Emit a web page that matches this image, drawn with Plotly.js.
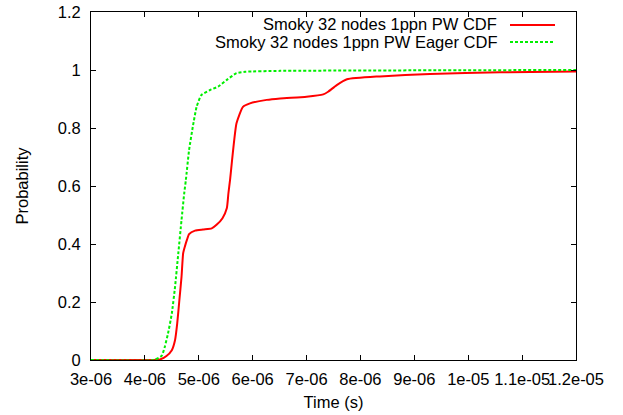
<!DOCTYPE html>
<html>
<head>
<meta charset="utf-8">
<script src="https://cdn.plot.ly/plotly-3.0.1.min.js"></script>
<style>html,body{margin:0;padding:0;background:#fff;}#chart{width:623px;height:415px;}</style>
</head>
<body>
<div id="chart"></div>
<script>
// Time values in microseconds (×1e-6 s)
var pwTimeUs = [3.0, 4.03, 4.28, 4.40, 4.50, 4.56, 4.60, 4.64, 4.68, 4.71, 4.74, 4.78, 4.82, 4.93, 5.08, 5.24, 5.33, 5.44, 5.52, 5.55, 5.58, 5.70, 5.82, 5.95, 6.26, 6.51, 7.0, 7.31, 7.40, 7.56, 7.75, 8.36, 9.29, 10.59, 12.0];
var pwProb   = [0, 0, 0.002, 0.014, 0.034, 0.069, 0.126, 0.207, 0.287, 0.368, 0.39, 0.414, 0.434, 0.446, 0.45, 0.454, 0.466, 0.489, 0.523, 0.575, 0.62, 0.816, 0.873, 0.885, 0.897, 0.902, 0.908, 0.916, 0.925, 0.948, 0.968, 0.978, 0.986, 0.992, 0.995];
var eagerTimeUs = [3.0, 4.16, 4.31, 4.37, 4.43, 4.50, 4.56, 4.62, 4.68, 4.73, 4.76, 4.82, 4.89, 4.96, 5.05, 5.21, 5.36, 5.52, 5.70, 5.86, 6.51, 12.0];
var eagerProb   = [0, 0, 0.014, 0.046, 0.092, 0.161, 0.253, 0.368, 0.483, 0.575, 0.62, 0.724, 0.805, 0.873, 0.914, 0.931, 0.943, 0.966, 0.989, 0.994, 0.997, 1.0];
var seriesNames = ["Smoky 32 nodes 1ppn PW CDF", "Smoky 32 nodes 1ppn PW Eager CDF"];
var xTickVals = [3e-6, 4e-6, 5e-6, 6e-6, 7e-6, 8e-6, 9e-6, 1e-5, 1.1e-5, 1.2e-5];
var xTickText = ["3e-06", "4e-06", "5e-06", "6e-06", "7e-06", "8e-06", "9e-06", "1e-05", "1.1e-05", "1.2e-05"];
var yTickVals = [0, 0.2, 0.4, 0.6, 0.8, 1, 1.2];
var yTickText = ["0", "0.2", "0.4", "0.6", "0.8", "1", "1.2"];

function toSec(a){ return a.map(function(v){ return v * 1e-6; }); }

var FONT = "Liberation Sans, Arial, Helvetica, sans-serif";
var FS = 16.5;
var traces = [
  {x: toSec(pwTimeUs), y: pwProb, mode: "lines", name: seriesNames[0],
   line: {color: "#ff0000", width: 2, shape: "spline", smoothing: 0.5}},
  {x: toSec(eagerTimeUs), y: eagerProb, mode: "lines", name: seriesNames[1],
   line: {color: "#00ee00", width: 2, dash: "3px,2px", shape: "spline", smoothing: 0.5}}
];

var layout = {
  width: 623, height: 415,
  margin: {l: 91, r: 47, t: 12, b: 55, pad: 0},
  paper_bgcolor: "#fff", plot_bgcolor: "#fff",
  showlegend: false,
  font: {family: FONT, size: FS, color: "#000"},
  xaxis: {
    range: [3e-6, 1.2e-5], tickmode: "array", tickvals: xTickVals, ticktext: xTickText, tickangle: 0,
    ticks: "inside", ticklen: 5, tickcolor: "#000", showline: true, linecolor: "#000", linewidth: 1,
    mirror: "ticks", showgrid: false, zeroline: false, automargin: false, ticklabelstandoff: 4,
    title: {text: "Time (s)", standoff: 9, font: {size: FS}}
  },
  yaxis: {
    range: [0, 1.2], tickmode: "array", tickvals: yTickVals, ticktext: yTickText,
    ticks: "inside", ticklen: 5, tickcolor: "#000", showline: true, linecolor: "#000", linewidth: 1,
    mirror: "ticks", showgrid: false, zeroline: false, automargin: false, ticklabelstandoff: 6,
    title: {text: "Probability", standoff: 24, font: {size: FS}}
  },
  annotations: [
    {xref: "paper", yref: "paper", x: (499-91)/485, y: (360-24)/348, xanchor: "right", yanchor: "middle",
     text: seriesNames[0], showarrow: false, font: {size: FS}},
    {xref: "paper", yref: "paper", x: (499-91)/485, y: (360-42)/348, xanchor: "right", yanchor: "middle",
     text: seriesNames[1], showarrow: false, font: {size: FS}}
  ],
  shapes: [
    {type: "line", xref: "paper", yref: "paper", x0: (510-91)/485, x1: (555-91)/485, y0: (360-25)/348, y1: (360-25)/348,
     line: {color: "#ff0000", width: 2}},
    {type: "line", xref: "paper", yref: "paper", x0: (510-91)/485, x1: (555-91)/485, y0: (360-42)/348, y1: (360-42)/348,
     line: {color: "#00ee00", width: 2, dash: "3px,2px"}}
  ]
};

Plotly.newPlot("chart", traces, layout, {staticPlot: true, displayModeBar: false});
</script>
</body>
</html>
